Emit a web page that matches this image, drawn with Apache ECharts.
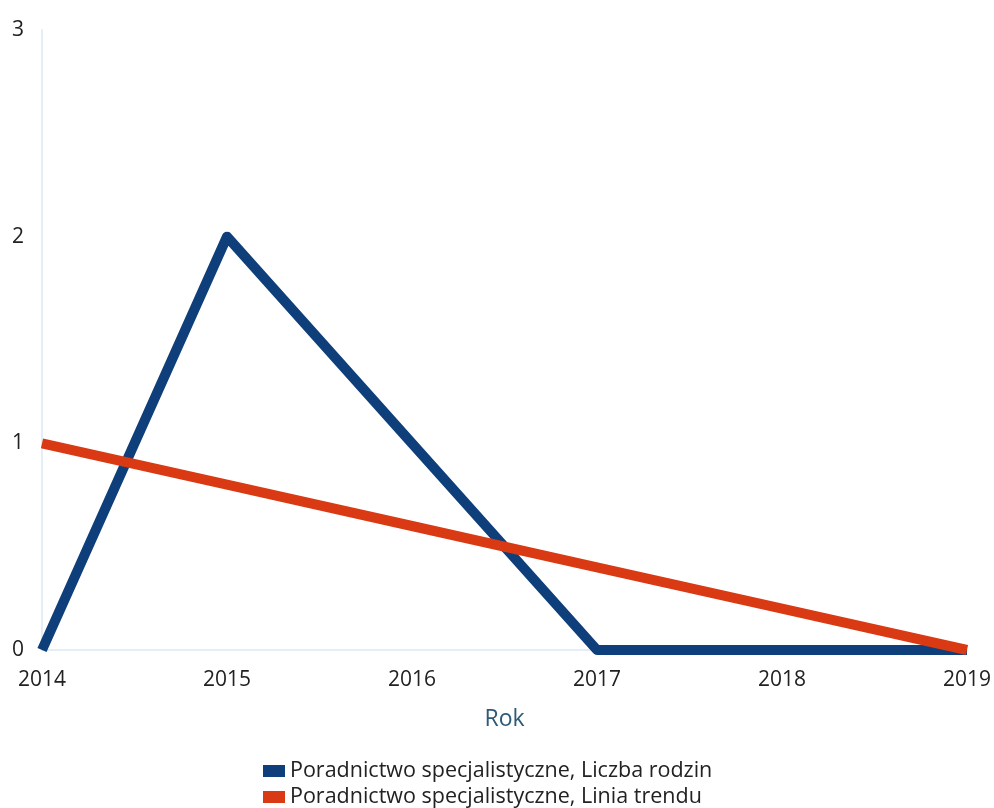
<!DOCTYPE html>
<html>
<head>
<meta charset="utf-8">
<script src="https://cdn.jsdelivr.net/npm/echarts@6/dist/echarts.min.js"></script>
<style>html,body{margin:0;padding:0;background:#fff;}#c{width:994px;height:808px;}</style>
</head>
<body>
<div id="c"></div>
<script>
var categories = ['2014', '2015', '2016', '2017', '2018', '2019'];
var liczbaRodzin = [0, 2, 1, 0, 0, 0];
var liniaTrendu = [1.0, 0.8, 0.6, 0.4, 0.2, 0.0];
var seriesNames = ['Poradnictwo specjalistyczne, Liczba rodzin', 'Poradnictwo specjalistyczne, Linia trendu'];
var xAxisName = 'Rok';

var legendBase = {
  left: 263,
  itemWidth: 22, itemHeight: 12,
  icon: 'rect',
  padding: 0,
  textStyle: { fontFamily: 'Open Sans', fontSize: 21.5, color: '#222' }
};

var chart = echarts.init(document.getElementById('c'));
chart.setOption({
  animation: false,
  backgroundColor: '#ffffff',
  grid: { left: 42, right: 27, top: 30, bottom: 158, containLabel: false },
  legend: [
    Object.assign({}, legendBase, { top: 760, data: [seriesNames[0]] }),
    Object.assign({}, legendBase, { top: 786, data: [seriesNames[1]] })
  ],
  xAxis: {
    type: 'category',
    data: categories,
    boundaryGap: false,
    name: xAxisName,
    nameLocation: 'middle',
    nameGap: 58,
    nameTextStyle: { fontFamily: 'Open Sans', fontSize: 23, color: '#2e5a7a' },
    axisLine: { show: true, lineStyle: { color: '#e4eef8', width: 2 } },
    axisTick: { show: false },
    axisLabel: { fontFamily: 'Open Sans', fontSize: 21, color: '#222', margin: 20 },
    splitLine: { show: false }
  },
  yAxis: {
    type: 'value',
    min: 0, max: 3, interval: 1,
    axisLine: { show: true, lineStyle: { color: '#e4eef8', width: 2 } },
    axisTick: { show: false },
    axisLabel: { fontFamily: 'Open Sans', fontSize: 21, color: '#222', margin: 24, align: 'center' },
    splitLine: { show: false }
  },
  series: [
    {
      name: seriesNames[0], type: 'line', data: liczbaRodzin,
      symbol: 'none', color: '#0f3f7a',
      lineStyle: { width: 10, color: '#0f3f7a', join: 'round' }
    },
    {
      name: seriesNames[1], type: 'line', data: liniaTrendu,
      symbol: 'none', color: '#d93a14',
      lineStyle: { width: 10, color: '#d93a14' }
    }
  ]
});
</script>
</body>
</html>
